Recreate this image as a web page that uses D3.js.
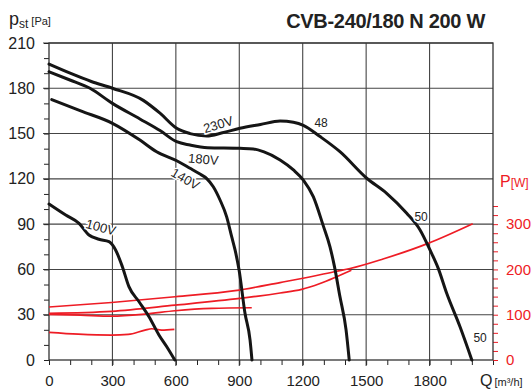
<!DOCTYPE html>
<html>
<head>
<meta charset="utf-8">
<script src="https://cdn.jsdelivr.net/npm/d3@7"></script>
<style>
  body { margin: 0; background: #fff; }
  svg { font-family: "Liberation Sans", Arial, sans-serif; }
</style>
</head>
<body>
<div id="chart"></div>
<script>
// pressure curves, [Q m3/h, pst Pa]
const curve230 = [[0,196],[100,190],[200,184.5],[300,180],[446,172],[525,163.5],[604,153.5],[667,150],[746,148.4],[820,150.5],[903,153.5],[1000,156],[1093,158.3],[1156,157.5],[1203,155.5],[1282,148],[1376,138],[1503,120.4],[1597,110.4],[1692,97.2],[1755,86.1],[1802,72.9],[1841,60.7],[1881,44.2],[1944,22],[2000,0]];
const curve180 = [[0,191],[99,185.5],[194,180],[300,170],[430,159.7],[525,152],[604,144.6],[667,142.4],[750,140.6],[903,140.2],[966,139.8],[1014,138],[1093,132.5],[1156,125.9],[1203,119.2],[1250,108.2],[1297,89],[1329,75],[1350,62],[1376,42],[1405,20],[1420,0]];
const curve140 = [[13,172.5],[150,165],[300,156.8],[430,145.7],[509,138],[604,132],[667,127],[710,123.5],[746,120.2],[777,114.8],[809,106],[840,95],[864,81.7],[880,72.9],[899,59.6],[927,30.9],[951,13.2],[960,0]];
const curve100 = [[0,103.3],[79,96],[142,90.5],[189,82.8],[236,80],[284,78.4],[315,72.9],[347,61.8],[378,48.6],[426,38.6],[473,28.7],[520,16.6],[557,8.8],[595,0]];

// power curves, [Q m3/h, P W]
const power230 = [[0,117],[296,127],[596,139.7],[880,153],[1093,171],[1195,180],[1361,196],[1424,202],[1580,223],[1790,257],[2004,301]];
const power180 = [[0,103],[296,107.4],[596,121],[903,136],[990,141],[1093,148],[1195,156],[1282,169],[1361,184],[1430,198]];
const power140 = [[0,100.7],[150,99],[296,97],[454,101.5],[596,108.8],[769,114],[959,115.4]];
const power100 = [[0,61],[139,57],[296,55],[375,56.6],[454,66],[486,69],[533,66],[593,67.7]];

const qTicks = [0, 300, 600, 900, 1200, 1500, 1800];
const pTicks = [0, 30, 60, 90, 120, 150, 180, 210];
const wTicks = [0, 100, 200, 300];

const curveLabels = [
  { text: "230V", q: 800, p: 156, rot: -17, size: 13 },
  { text: "180V", q: 730, p: 133, rot: 5, size: 13 },
  { text: "140V", q: 645, p: 120, rot: 30, size: 13 },
  { text: "100V", q: 245, p: 88, rot: 15, size: 13 },
  { text: "48", q: 1287, p: 157, rot: 0, size: 12 },
  { text: "50", q: 1760, p: 95, rot: 0, size: 12 },
  { text: "50", q: 2039, p: 14.5, rot: 0, size: 12 }
];

const W = 532, H = 389;
const RED = "#ee1c25";
const INK = "#222";

const svg = d3.select("#chart").append("svg")
  .attr("width", W)
  .attr("height", H);

const x = d3.scaleLinear().domain([0, 2100]).range([49, 493]);
const y = d3.scaleLinear().domain([0, 210]).range([360, 43]);
const yP = d3.scaleLinear().domain([0, 700]).range([360, 43]);

// grid
const grid = svg.append("g").attr("stroke", "#444").attr("stroke-width", 1.1);
grid.selectAll("line.v")
  .data(qTicks.slice(1))
  .join("line")
  .attr("x1", d => x(d)).attr("x2", d => x(d))
  .attr("y1", y(210)).attr("y2", y(0) + 6);
grid.selectAll("line.h")
  .data(pTicks.slice(1))
  .join("line")
  .attr("x1", x(0) - 6).attr("x2", x(2100))
  .attr("y1", d => y(d)).attr("y2", d => y(d));

// left axis
const leftAxis = d3.axisLeft(y)
  .tickValues(d3.range(0, 211, 10))
  .tickSize(5)
  .tickPadding(9)
  .tickFormat(d => d % 30 === 0 ? d : "");
const gl = svg.append("g").attr("transform", `translate(${x(0)},0)`).call(leftAxis);
gl.select(".domain").remove();
gl.selectAll("line").attr("stroke", INK);
gl.selectAll("text").attr("font-size", 16).attr("fill", INK)
  .attr("font-family", "Liberation Sans, Arial, sans-serif");

// bottom axis
const bottomAxis = d3.axisBottom(x)
  .tickValues(d3.range(0, 2101, 100))
  .tickSize(5)
  .tickPadding(10.5)
  .tickFormat(d => qTicks.includes(d) ? d : "");
const gb = svg.append("g").attr("transform", `translate(0,${y(0)})`).call(bottomAxis);
gb.select(".domain").remove();
gb.selectAll("line").attr("stroke", INK);
gb.selectAll("text").attr("font-size", 15).attr("fill", INK)
  .attr("font-family", "Liberation Sans, Arial, sans-serif");

// right axis (power)
const rightAxis = d3.axisRight(yP)
  .tickValues(d3.range(0, 341, 20))
  .tickSize(5)
  .tickPadding(8)
  .tickFormat(d => wTicks.includes(d) ? d : "");
const gr = svg.append("g").attr("transform", `translate(${x(2100)},0)`).call(rightAxis);
gr.select(".domain").remove();
gr.selectAll("line").attr("stroke", RED);
gr.selectAll("text").attr("font-size", 15).attr("fill", RED)
  .attr("font-family", "Liberation Sans, Arial, sans-serif");

// frame
svg.append("rect")
  .attr("x", x(0)).attr("y", y(210))
  .attr("width", x(2100) - x(0)).attr("height", y(0) - y(210))
  .attr("fill", "none").attr("stroke", "#333").attr("stroke-width", 1.3);

// power curves
const lineP = d3.line().x(d => x(d[0])).y(d => yP(d[1])).curve(d3.curveMonotoneX);
svg.append("g").selectAll("path")
  .data([power230, power180, power140, power100])
  .join("path")
  .attr("d", lineP)
  .attr("fill", "none")
  .attr("stroke", RED)
  .attr("stroke-width", 1.7);

// pressure curves
const lineQ = d3.line().x(d => x(d[0])).y(d => y(d[1])).curve(d3.curveMonotoneX);
svg.append("g").selectAll("path")
  .data([curve230, curve180, curve140, curve100])
  .join("path")
  .attr("d", lineQ)
  .attr("fill", "none")
  .attr("stroke", "#151515")
  .attr("stroke-width", 3)
  .attr("stroke-linecap", "round");

// curve labels
svg.append("g").selectAll("text")
  .data(curveLabels)
  .join("text")
  .attr("transform", d => `translate(${x(d.q)},${y(d.p)}) rotate(${d.rot})`)
  .attr("text-anchor", "middle")
  .attr("dy", "0.35em")
  .attr("font-size", d => d.size)
  .attr("fill", INK)
  .attr("stroke", "#fff")
  .attr("stroke-width", 3)
  .attr("paint-order", "stroke")
  .text(d => d.text);

// title
svg.append("text")
  .attr("x", 485).attr("y", 28)
  .attr("text-anchor", "end")
  .attr("font-size", 20)
  .attr("font-weight", "bold")
  .attr("letter-spacing", -0.3)
  .attr("fill", INK)
  .text("CVB-240/180 N 200 W");

// y label
const yl = svg.append("text").attr("x", 9).attr("y", 25).attr("fill", INK);
yl.append("tspan").attr("font-size", 18).text("p");
yl.append("tspan").attr("font-size", 12).attr("dy", 3).text("st");
yl.append("tspan").attr("font-size", 11).attr("dx", 3).attr("dy", -3).text("[Pa]");

// x label
const xl = svg.append("text").attr("x", 480).attr("y", 386).attr("fill", INK);
xl.append("tspan").attr("font-size", 16).text("Q");
xl.append("tspan").attr("font-size", 11).attr("dx", 2).text("[m³/h]");

// power label
const pl = svg.append("text").attr("x", 500).attr("y", 187).attr("fill", RED);
pl.append("tspan").attr("font-size", 16).text("P");
pl.append("tspan").attr("font-size", 12).text("[W]");
</script>
</body>
</html>
